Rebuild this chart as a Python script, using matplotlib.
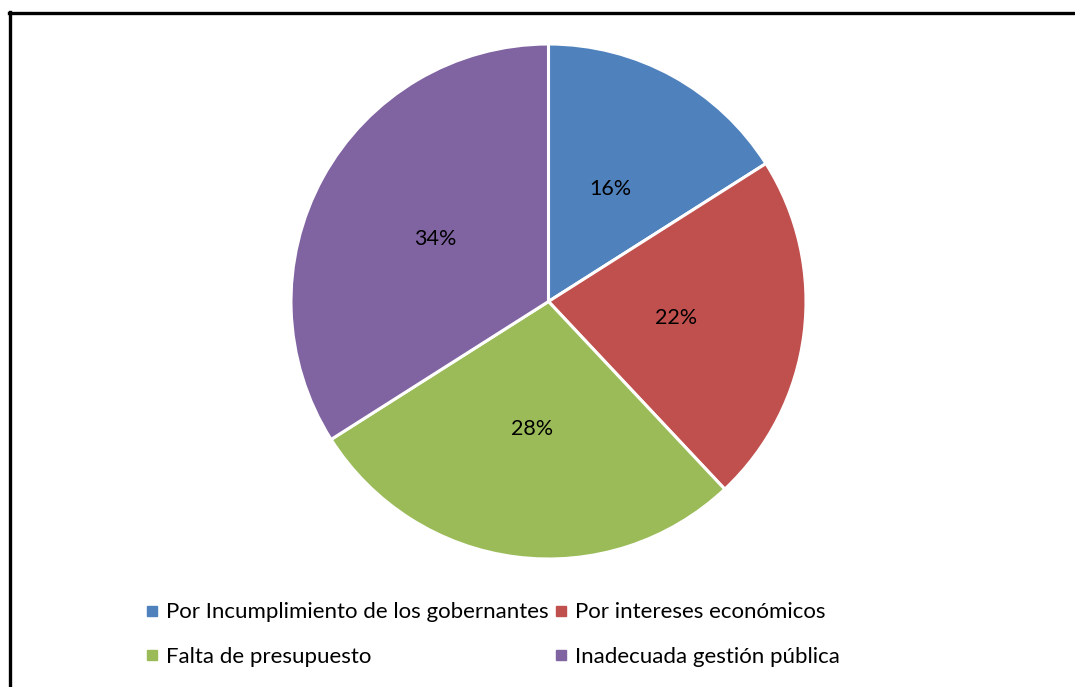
import matplotlib.pyplot as plt
from matplotlib.lines import Line2D

plt.rcParams['font.family'] = ['Lato', 'DejaVu Sans']

labels = ["Por Incumplimiento de los gobernantes", "Por intereses económicos",
          "Falta de presupuesto", "Inadecuada gestión pública"]
values = [16, 22, 28, 34]
colors = ["#4F81BD", "#C0504D", "#9BBB59", "#8064A2"]

W, H = 1075, 687
fig = plt.figure(figsize=(W / 100, H / 100), dpi=100)

# pie area in pixels
cx, cy, r = 548.5, 301.5, 257.5
ax = fig.add_axes([(cx - r) / W, (H - cy - r) / H, 2 * r / W, 2 * r / H])
wedges, texts, autotexts = ax.pie(values, colors=colors, startangle=90, counterclock=False,
                                  autopct='%1.0f%%', pctdistance=0.5, radius=1,
                                  wedgeprops=dict(edgecolor='white', linewidth=2.2),
                                  textprops=dict(fontsize=15.5, color='black'))
ax.set_xlim(-1, 1)
ax.set_ylim(-1, 1)
ax.axis('off')

# legend, row-major order in two columns
handles = [Line2D([], [], marker='s', linestyle='none', markersize=6.5,
                  markerfacecolor=c, markeredgecolor=c) for c in colors]
order = [0, 2, 1, 3]
fig.legend([handles[i] for i in order], [labels[i] for i in order], ncol=2,
           loc='center left', bbox_to_anchor=(136 / W, 1 - 634.5 / H),
           frameon=False, fontsize=16, handlelength=0.6, handletextpad=0.35,
           columnspacing=0.25, labelspacing=1.1, borderaxespad=0)

# chart border (only left and top fall inside the image)
fig.add_artist(Line2D([10 / W, 10 / W], [0, 1 - 12 / H], color='black', linewidth=2.4,
                      transform=fig.transFigure))
fig.add_artist(Line2D([9 / W, 1], [1 - 13 / H, 1 - 13 / H], color='black', linewidth=2.4,
                      transform=fig.transFigure))

fig.savefig("out.png", dpi=100)
